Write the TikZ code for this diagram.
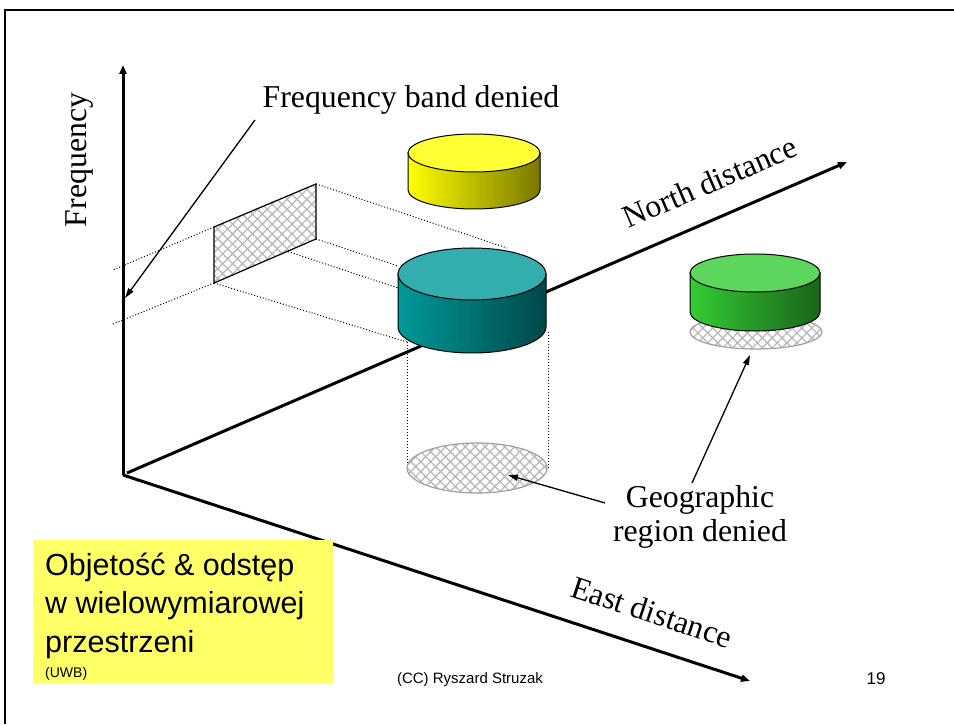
\documentclass[tikz,border=0pt]{standalone}
\usepackage{fontspec}
\setmainfont{Liberation Serif}
\newfontfamily\arialfont{Liberation Sans}
\usetikzlibrary{arrows.meta,patterns.meta}
\definecolor{boxyellow}{RGB}{255,255,102}
\definecolor{ytop}{RGB}{255,255,51}
\definecolor{yleft}{RGB}{255,255,0}
\definecolor{ymid}{RGB}{225,225,0}
\definecolor{yright}{RGB}{120,120,0}
\definecolor{ctop}{RGB}{51,173,173}
\definecolor{cleft}{RGB}{0,153,153}
\definecolor{cmid}{RGB}{0,130,130}
\definecolor{cright}{RGB}{0,72,72}
\definecolor{gtop}{RGB}{92,214,92}
\definecolor{gleft}{RGB}{51,204,51}
\definecolor{gmid}{RGB}{40,165,40}
\definecolor{gright}{RGB}{26,100,26}
\definecolor{hatchgray}{RGB}{185,185,185}
\definecolor{rimgray}{RGB}{160,160,160}
\newcommand\drawcyl[9]{%
  \shade[left color=#7, middle color=#8, right color=#9, draw=black, line width=1pt]
    (#1-#4,#2) -- (#1-#4,#3) arc[start angle=180, end angle=360, x radius=#4, y radius=#5]
    -- (#1+#4,#2) -- cycle;
  \filldraw[fill=#6, draw=black, line width=1pt] (#1,#2) ellipse [x radius=#4, y radius=#5];
}
\newcommand\hatchfill[1]{%
  \fill[white] #1;
  \fill[pattern={Lines[angle=45,distance=7pt,line width=1.3pt]}, pattern color=hatchgray] #1;
  \fill[pattern={Lines[angle=-45,distance=7pt,line width=1.3pt]}, pattern color=hatchgray] #1;
}
\begin{document}
\begin{tikzpicture}[x=1pt,y=1pt,
  axisline/.style={line width=3pt, -{Triangle[length=9pt,width=7pt]}},
  pointer/.style={line width=1.3pt, -{Triangle[length=10pt,width=6pt]}},
  proj/.style={dotted, line width=1pt},
  lbl/.style={font=\fontsize{31.8}{36}\selectfont, inner sep=0pt},
  boxtxt/.style={font=\arialfont\fontsize{30.5}{36}\selectfont, inner sep=0pt, anchor=base west},
  foot/.style={font=\arialfont\fontsize{15}{18}\selectfont, inner sep=0pt, anchor=base}
]
\useasboundingbox (0,0) rectangle (954,724);
% frame
\draw[line width=2pt] (5,0) -- (5,714) -- (954,714);

% key points
\coordinate (O) at (123,249);
\coordinate (ftip) at (123,659);
\coordinate (nstart) at (127,251);
\coordinate (ntip) at (847,562);
\coordinate (etip) at (750,43);
\coordinate (TL) at (214,497);
\coordinate (TR) at (316,540);
\coordinate (BR) at (316,485);
\coordinate (BL) at (214,441);

% axes
\draw[axisline] (O) -- (ftip);
\draw[axisline] (O) -- (etip);
\draw[axisline] (nstart) -- (ntip);

% projection lines (behind cylinders)
\coordinate (trEnd) at (507,476);
\coordinate (brEnd) at (398,458);
\coordinate (tlEnd) at (398,436);
\coordinate (blEnd) at (407,382);
\coordinate (tlLeft) at (113,454);
\coordinate (blLeft) at (113,400);
\draw[proj] (TR) -- (trEnd);
\draw[proj] (BR) -- (brEnd);
\draw[proj] (TL) -- (tlEnd);
\draw[proj] (BL) -- (blEnd);
\draw[proj] (TL) -- (tlLeft);
\draw[proj] (BL) -- (blLeft);

% hatched band
\hatchfill{(TL) -- (TR) -- (BR) -- (BL) -- cycle}
\draw[line width=1.2pt] (TL) -- (TR) -- (BR) -- (BL) -- cycle;

% vertical projection to ground
\coordinate (vl1) at (407,382);
\coordinate (vl2) at (407,256);
\coordinate (vr1) at (548,392);
\coordinate (vr2) at (548,256);
\draw[proj] (vl1) -- (vl2);
\draw[proj] (vr1) -- (vr2);

% ground hatched ellipse
\hatchfill{(477,256) ellipse [x radius=70, y radius=25]}
\draw[rimgray, line width=1.2pt] (477,256) ellipse [x radius=70, y radius=25];

% green hatched ellipse
\hatchfill{(756,392) ellipse [x radius=66, y radius=17]}
\draw[rimgray, line width=1.2pt] (756,392) ellipse [x radius=66, y radius=17];

% cylinders
\drawcyl{474}{571}{534}{66}{19}{ytop}{yleft}{ymid}{yright}
\drawcyl{472}{450}{397}{74}{26}{ctop}{cleft}{cmid}{cright}
\drawcyl{755}{451}{412}{65}{19}{gtop}{gleft}{gmid}{gright}

% labels
\node[lbl] (fbd) at (411,624) {Frequency band denied};
\node[lbl, rotate=90] (freq) at (80,564) {Frequency};
\node[lbl, rotate=23.4] (north) at (710,542) {North distance};
\node[lbl, rotate=-18.3] (east) at (652,112) {East distance};
\node[lbl, align=center, font=\fontsize{31.8}{34}\selectfont] (geo) at (700,207) {Geographic\\region denied};

% pointers
\coordinate (p1s) at (255,604);
\coordinate (p1e) at (125,426);
\coordinate (p2s) at (605,221);
\coordinate (p2e) at (508,249);
\coordinate (p3s) at (692,241);
\coordinate (p3e) at (750,369);
\draw[pointer] (p1s) -- (p1e);
\draw[pointer] (p2s) -- (p2e);
\draw[pointer] (p3s) -- (p3e);

% yellow box
\node[fill=boxyellow, minimum width=300, minimum height=143, inner sep=0pt, anchor=north west] (ybox) at (33,184) {};
\node[boxtxt] (t1) at (45,149) {Objetość \& odstęp};
\node[boxtxt] (t2) at (45,111) {w wielowymiarowej};
\node[boxtxt] (t3) at (45,72) {przestrzeni};
\node[boxtxt, font=\arialfont\fontsize{14}{16}\selectfont] (t4) at (45,47) {(UWB)};

% footer
\node[foot] (cc) at (470,41) {(CC) Ryszard Struzak};
\node[foot, font=\arialfont\fontsize{17}{20}\selectfont] (pg) at (876,40) {19};
\end{tikzpicture}
\end{document}
